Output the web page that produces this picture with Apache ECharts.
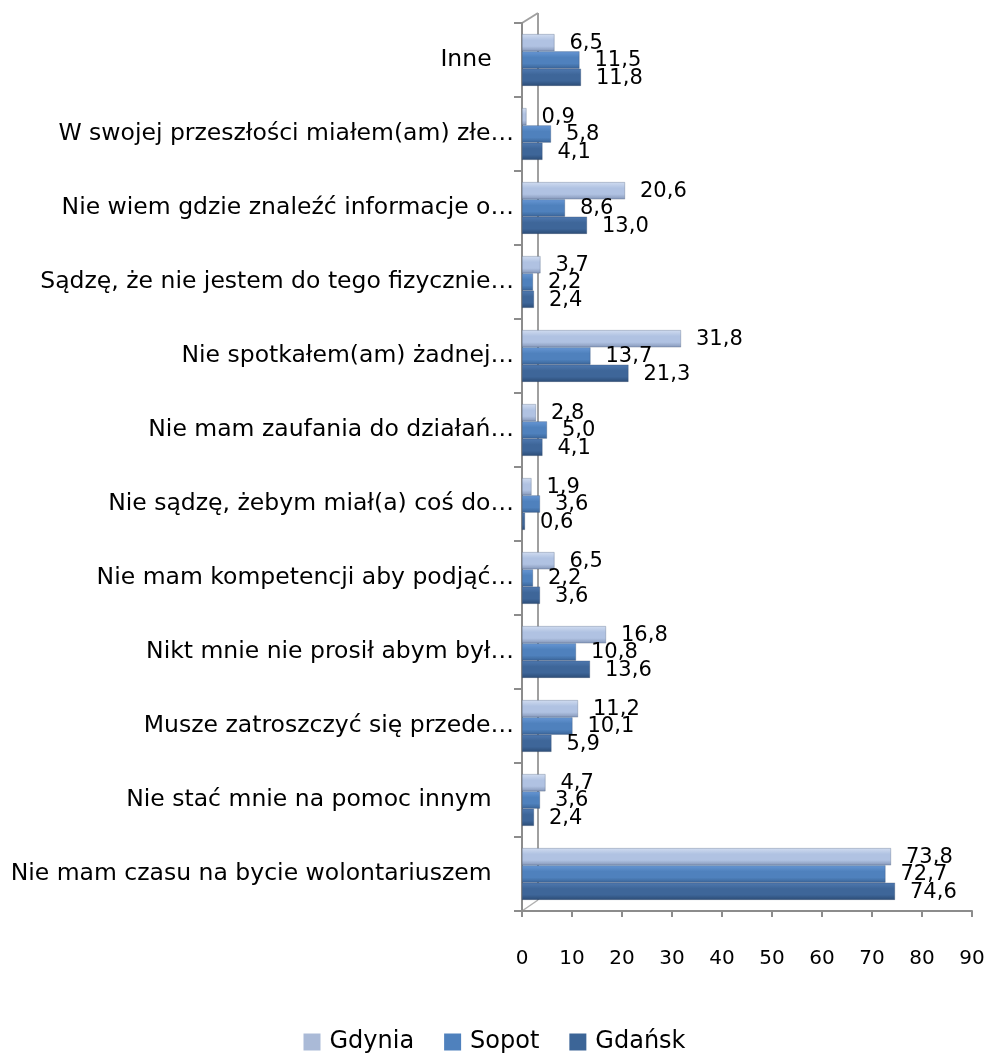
<!DOCTYPE html>
<html><head><meta charset="utf-8">
<script src="https://cdn.jsdelivr.net/npm/echarts@6/dist/echarts.min.js"></script>
<style>html,body{margin:0;padding:0;background:#fff}#c{width:989px;height:1061px}</style>
</head><body><div id="c"></div>
<script>
const categories = [
  "Nie mam czasu na bycie wolontariuszem\u00a0\u00a0\u00a0",
  "Nie stać mnie na pomoc innym\u00a0\u00a0\u00a0",
  "Musze zatroszczyć się przede…",
  "Nikt mnie nie prosił abym był…",
  "Nie mam kompetencji aby podjąć…",
  "Nie sądzę, żebym miał(a) coś do…",
  "Nie mam zaufania do działań…",
  "Nie spotkałem(am) żadnej…",
  "Sądzę, że nie jestem do tego fizycznie…",
  "Nie wiem gdzie znaleźć informacje o…",
  "W swojej przeszłości miałem(am) złe…",
  "Inne\u00a0\u00a0\u00a0"
];
const gdynia = [73.8, 4.7, 11.2, 16.8, 6.5, 1.9, 2.8, 31.8, 3.7, 20.6, 0.9, 6.5];
const sopot  = [72.7, 3.6, 10.1, 10.8, 2.2, 3.6, 5.0, 13.7, 2.2, 8.6, 5.8, 11.5];
const gdansk = [74.6, 2.4, 5.9, 13.6, 3.6, 0.6, 4.1, 21.3, 2.4, 13.0, 4.1, 11.8];
const xTicks = [0, 10, 20, 30, 40, 50, 60, 70, 80, 90];

const FONT = 'DejaVu Sans';
function grad(c1, c2, c3) {
  return new echarts.graphic.LinearGradient(0, 0, 0, 1, [
    {offset: 0, color: c1}, {offset: 0.35, color: c2}, {offset: 0.7, color: c2}, {offset: 1, color: c3}
  ]);
}
function mk(name, data, g) {
  return {
    name: name, type: 'bar', data: data, barGap: '0%', barCategoryGap: '30%', z: 3,
    itemStyle: {color: g, borderColor: 'rgba(40,60,90,0.5)', borderWidth: 0.5},
    label: {show: true, position: 'right', distance: 15, offset: [0, 1],
      fontFamily: FONT, fontSize: 21, color: '#000',
      formatter: p => p.value.toFixed(1).replace('.', ',')},
    emphasis: {disabled: true}
  };
}
const chart = echarts.init(document.getElementById('c'), null, {renderer: 'canvas'});
chart.setOption({
  animation: false,
  grid: {left: 522, right: 17, top: 23, bottom: 150, containLabel: false},
  graphic: [
    {type: 'line', z: 0, shape: {x1: 538, y1: 13, x2: 538, y2: 900}, style: {stroke: '#a0a0a0', lineWidth: 2}},
    {type: 'line', z: 0, shape: {x1: 522, y1: 23, x2: 538, y2: 13}, style: {stroke: '#a0a0a0', lineWidth: 2}},
    {type: 'line', z: 0, shape: {x1: 522, y1: 911, x2: 538, y2: 900}, style: {stroke: '#b0b0b0', lineWidth: 1.5}}
  ],
  legend: {
    bottom: 2, left: 'center', itemWidth: 17, itemHeight: 17, itemGap: 30, icon: 'rect',
    textStyle: {fontFamily: FONT, fontSize: 24, color: '#000', padding: [0, 0, 0, 4]},
    data: [
      {name: 'Gdynia', itemStyle: {color: '#AABAD7', borderWidth: 0}},
      {name: 'Sopot', itemStyle: {color: '#4F81BD', borderWidth: 0}},
      {name: 'Gdańsk', itemStyle: {color: '#3C6597', borderWidth: 0}}
    ]
  },
  xAxis: {
    type: 'value', min: 0, max: 90, interval: 10,
    axisLine: {show: true, lineStyle: {color: '#8c8c8c', width: 2}},
    axisTick: {show: true, length: 6, lineStyle: {color: '#8c8c8c', width: 2}},
    splitLine: {show: false},
    axisLabel: {fontFamily: FONT, fontSize: 20, color: '#000', margin: 38,
      formatter: v => xTicks.includes(v) ? String(v) : ''}
  },
  yAxis: {
    type: 'category', data: categories,
    axisLine: {show: true, lineStyle: {color: '#8c8c8c', width: 2}},
    axisTick: {show: true, length: 8, lineStyle: {color: '#8c8c8c', width: 2}},
    axisLabel: {fontFamily: FONT, fontSize: 23.5, color: '#000', margin: 8}
  },
  series: [
    mk('Gdynia', gdynia, grad('#D0DCF0', '#B0C2E2', '#8496B8')),
    mk('Sopot', sopot, grad('#6797D4', '#4F81BD', '#3A6598')),
    mk('Gdańsk', gdansk, grad('#4F79B0', '#3E6699', '#2C4C76'))
  ]
});
</script></body></html>
